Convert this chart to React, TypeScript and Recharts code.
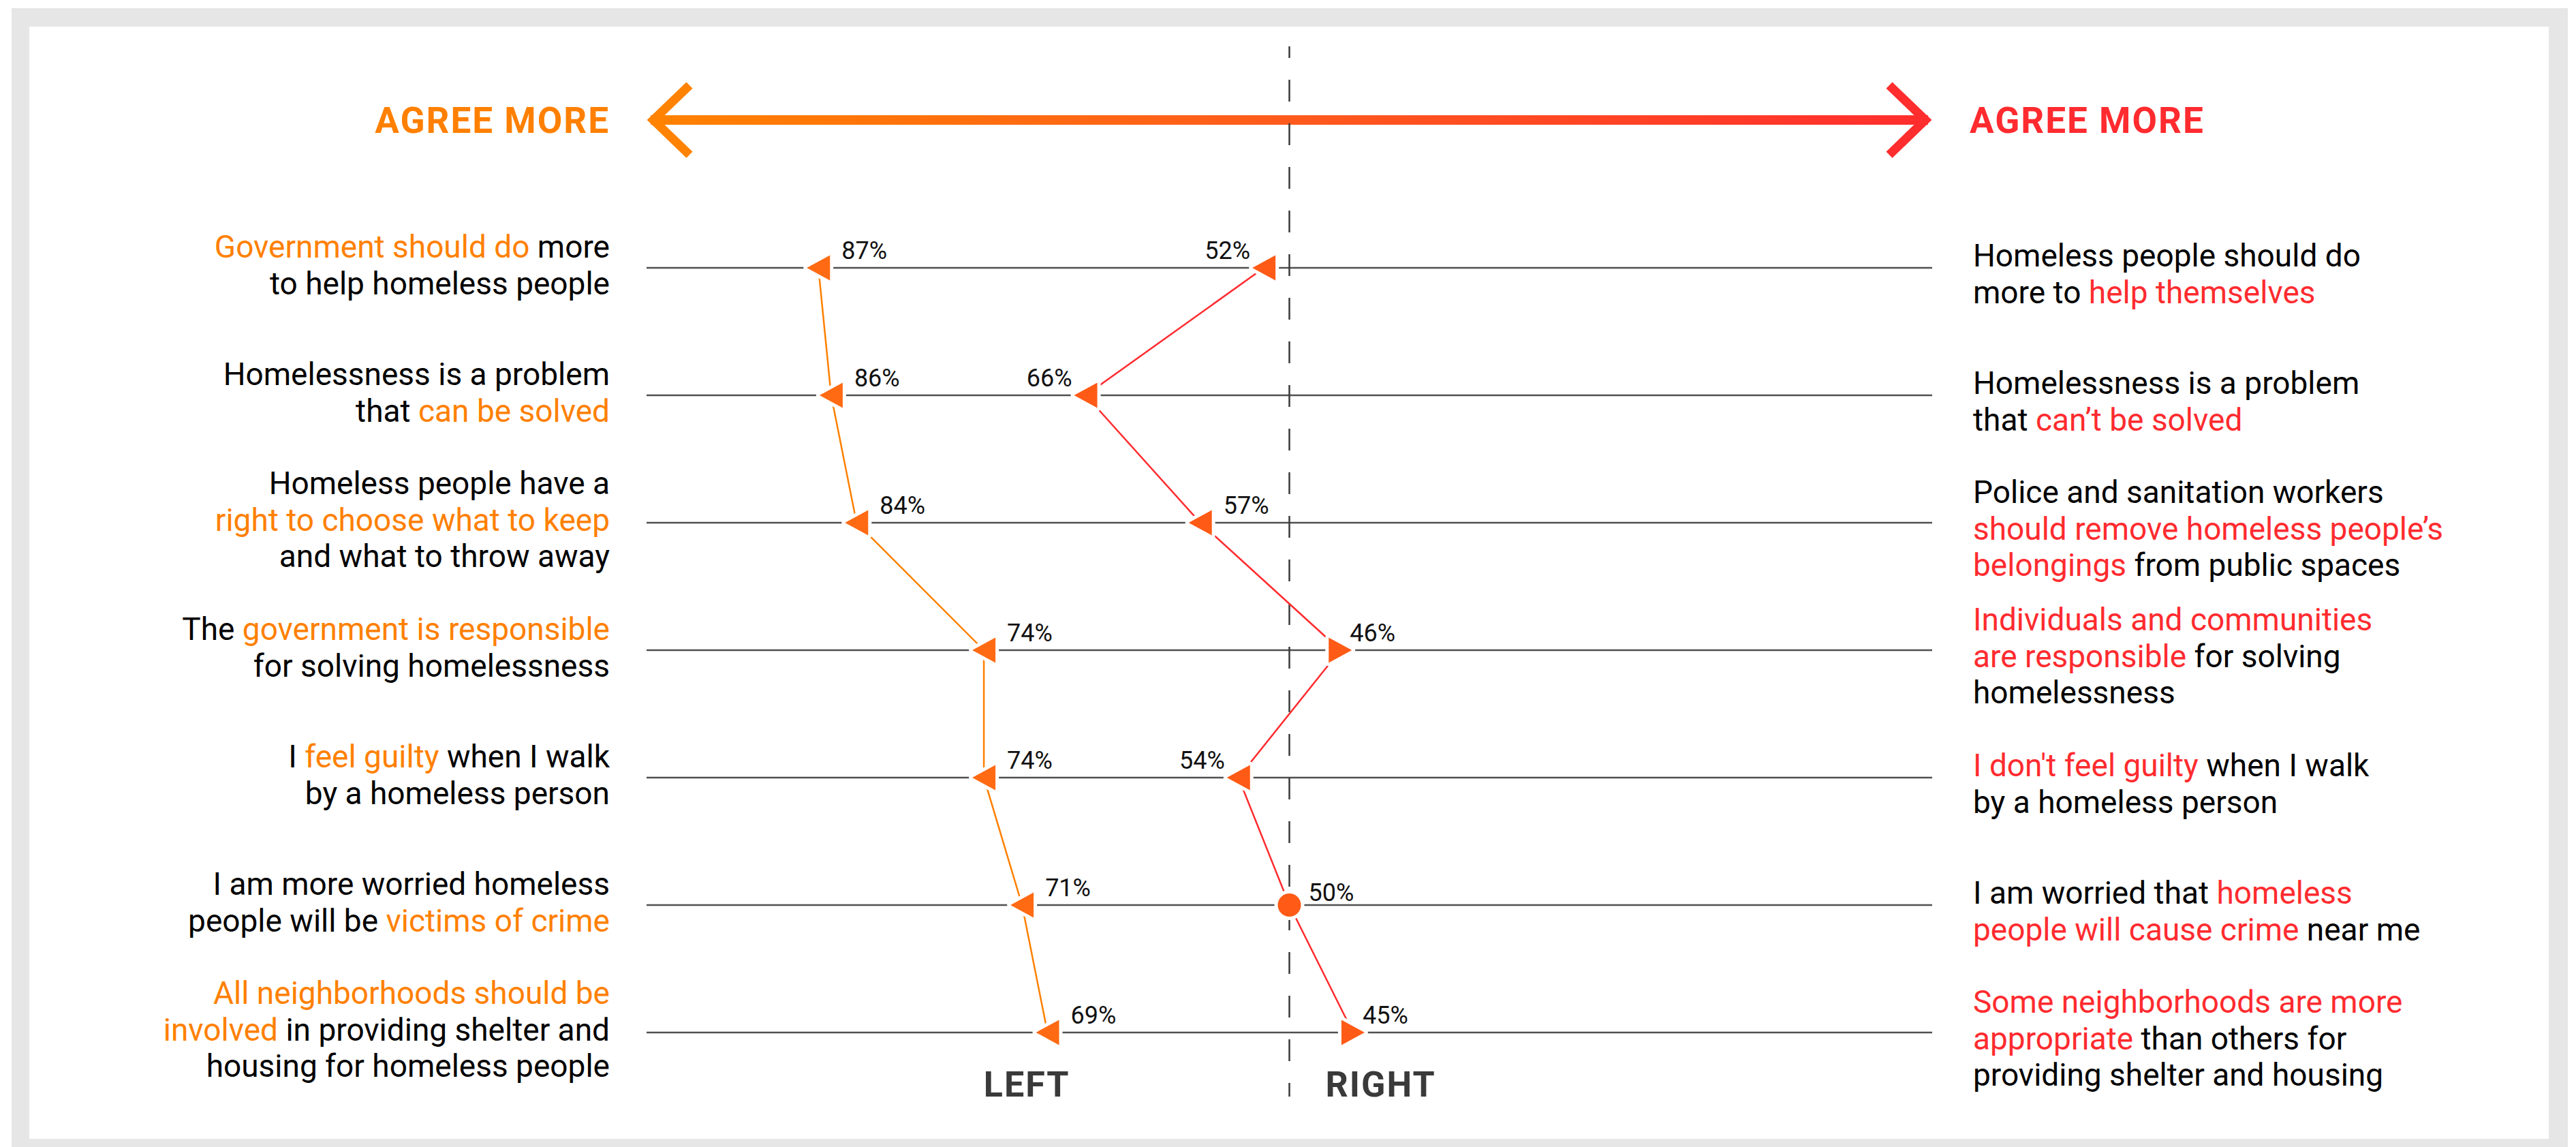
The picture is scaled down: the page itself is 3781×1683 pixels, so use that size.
import React from "react";
import { ComposedChart, Line, XAxis, YAxis, ReferenceLine } from "recharts";

const ROWS = [0, 1, 2, 3, 4, 5, 6];

// "*...*" marks the highlighted words, "|" breaks a line
const LEFT_STATEMENTS = [
  "*Government should do* more|to help homeless people",
  "Homelessness is a problem|that *can be solved*",
  "Homeless people have a|*right to choose what to keep*|and what to throw away",
  "The *government is responsible*|for solving homelessness",
  "I *feel guilty* when I walk|by a homeless person",
  "I am more worried homeless|people will be *victims of crime*",
  "*All neighborhoods should be*|*involved* in providing shelter and|housing for homeless people",
];

const RIGHT_STATEMENTS = [
  "Homeless people should do|more to *help themselves*",
  "Homelessness is a problem|that *can\u2019t be solved*",
  "Police and sanitation workers|*should remove homeless people\u2019s*|*belongings* from public spaces",
  "*Individuals and communities*|*are responsible* for solving|homelessness",
  "*I don't feel guilty* when I walk|by a homeless person",
  "I am worried that *homeless*|*people will cause crime* near me",
  "*Some neighborhoods are more*|*appropriate* than others for|providing shelter and housing",
];

// share agreeing with the left-hand statement
const LEFT_RESPONDENTS = [87, 86, 84, 74, 74, 71, 69];
const RIGHT_RESPONDENTS = [52, 66, 57, 46, 54, 50, 45];

const AGREE_LABEL = "AGREE MORE";
const LEFT_LABEL = "LEFT";
const RIGHT_LABEL = "RIGHT";

const rows = ROWS.map((row) => ({
  row,
  left: LEFT_RESPONDENTS[row],
  right: RIGHT_RESPONDENTS[row],
}));

const FONT = "Roboto, 'Noto Sans', sans-serif";
const ORANGE = "#FF8000";
const RED = "#FF2B2F";
const ROW_DOMAIN = [-1.738, 6.503];
const ARROW_ROW = -1.16;
const LINE_H = 53.5;
// right-group labels that sit before the marker
const LABEL_BEFORE = [0, 1, 4];

const parseLines = (s: string) =>
  s.split("|").map((line) =>
    line
      .split("*")
      .map((text, i) => ({ text, hi: i % 2 === 1 }))
      .filter((seg) => seg.text.length > 0)
  );

const StatementTick = ({ x, y, payload, statements, side }: any) => {
  const lines = parseLines(statements[payload.value]);
  const first = y - ((lines.length - 1) * LINE_H) / 2 + (side === "left" ? 12 : 25);
  const hiColor = side === "left" ? ORANGE : RED;
  return (
    <g>
      {lines.map((segs, i) => (
        <text
          key={i}
          x={x}
          y={first + i * LINE_H}
          textAnchor={side === "left" ? "end" : "start"}
          fontSize={46}
          fontFamily={FONT}
          fill="#000"
          style={{ whiteSpace: "pre" }}
        >
          {segs.map((seg, j) => (
            <tspan key={j} fill={seg.hi ? hiColor : "#000"}>
              {seg.text}
            </tspan>
          ))}
        </text>
      ))}
    </g>
  );
};

const Marker = ({ cx, cy, value, index, color, before }: any) => {
  const dir = value > 50 ? -1 : value < 50 ? 1 : 0;
  let shape;
  let lx = cx + 34;
  let ly = cy - 13;
  let anchor = "start";
  if (dir === 0) {
    shape = <circle cx={cx} cy={cy} r={17} />;
    lx = cx + 28;
    ly = cy - 6;
  } else {
    const tip = cx + dir * 17;
    const base = cx - dir * 17;
    shape = <path d={`M${tip},${cy} L${base},${cy - 18.5} L${base},${cy + 18.5} Z`} />;
    if (dir === 1) lx = cx + 14;
  }
  if (before) {
    lx = cx - 20;
    anchor = "end";
  }
  return (
    <g key={`m-${index}-${value}-${color}`}>
      <g fill={color} stroke="#fff" strokeWidth={10} strokeLinejoin="round" paintOrder="stroke">
        {shape}
      </g>
      <text x={lx} y={ly} textAnchor={anchor} fontSize={36} fontFamily={FONT} fill="#111">
        {value}%
      </text>
    </g>
  );
};

const AgreeArrow = (props: any) => {
  const lx = Math.min(props.x1, props.x2);
  const rx = Math.max(props.x1, props.x2);
  const y = props.y1;
  return (
    <g>
      <defs>
        <linearGradient id="agreeGrad" x1="0" x2="1" y1="0" y2="0">
          <stop offset="0%" stopColor="#FF8200" />
          <stop offset="50%" stopColor="#FF5A1C" />
          <stop offset="100%" stopColor="#FF2D2D" />
        </linearGradient>
      </defs>
      <rect x={lx + 6} y={y - 7} width={rx - lx - 12} height={14} fill="url(#agreeGrad)" />
      <polyline
        points={`${lx + 63},${y - 51} ${lx + 10},${y} ${lx + 63},${y + 51}`}
        fill="none"
        stroke="#FF8200"
        strokeWidth={13}
      />
      <polyline
        points={`${rx - 63},${y - 51} ${rx - 10},${y} ${rx - 63},${y + 51}`}
        fill="none"
        stroke="#FF2D2D"
        strokeWidth={13}
      />
      <text x={lx - 54} y={y + 19} textAnchor="end" fontSize={53} fontWeight={700} letterSpacing={2} fontFamily={FONT} fill={ORANGE}>
        {AGREE_LABEL}
      </text>
      <text x={rx + 55} y={y + 19} textAnchor="start" fontSize={53} fontWeight={700} letterSpacing={2} fontFamily={FONT} fill={RED}>
        {AGREE_LABEL}
      </text>
    </g>
  );
};

const CenterLine = (props: any) => {
  const x = props.x1;
  const top = Math.min(props.y1, props.y2);
  const bottom = Math.max(props.y1, props.y2);
  return (
    <g>
      <line x1={x} y1={top} x2={x} y2={bottom} stroke="#3a3a3a" strokeWidth={2.5} strokeDasharray="32 32" strokeDashoffset={15} />
      <text x={x - 322} y={bottom} textAnchor="end" fontSize={52} fontWeight={700} letterSpacing={2} fontFamily={FONT} fill="#3a3a3a">
        {LEFT_LABEL}
      </text>
      <text x={x + 53} y={bottom} textAnchor="start" fontSize={52} fontWeight={700} letterSpacing={2} fontFamily={FONT} fill="#3a3a3a">
        {RIGHT_LABEL}
      </text>
    </g>
  );
};

export default function App() {
  return (
    <div style={{ position: "absolute", left: 0, top: 0, width: 3781, height: 1683, background: "#fff" }}>
      <div style={{ position: "absolute", left: 17, top: 12, width: 3752, height: 1671, background: "#e6e6e6" }} />
      <div style={{ position: "absolute", left: 43, top: 39, width: 3698, height: 1632, background: "#fff" }} />
      <div style={{ position: "absolute", left: 0, top: 0 }}>
        <ComposedChart
          width={3781}
          height={1683}
          data={rows}
          layout="vertical"
          margin={{ top: 68, bottom: 74, left: 49, right: 45 }}
        >
          <XAxis type="number" domain={[-0.5, 100.5]} reversed hide />
          <YAxis
            yAxisId="left"
            type="number"
            dataKey="row"
            domain={ROW_DOMAIN}
            ticks={ROWS}
            interval={0}
            width={900}
            axisLine={false}
            tickLine={false}
            tickSize={0}
            tickMargin={54}
            tick={(p: any) => <StatementTick {...p} statements={LEFT_STATEMENTS} side="left" />}
          />
          <YAxis
            yAxisId="right"
            orientation="right"
            type="number"
            dataKey="row"
            domain={ROW_DOMAIN}
            ticks={ROWS}
            interval={0}
            width={900}
            axisLine={false}
            tickLine={false}
            tickSize={0}
            tickMargin={60}
            tick={(p: any) => <StatementTick {...p} statements={RIGHT_STATEMENTS} side="right" />}
          />
          {ROWS.map((r) => (
            <ReferenceLine key={r} yAxisId="left" y={r} stroke="#505050" strokeWidth={2.5} />
          ))}
          <ReferenceLine yAxisId="left" y={ARROW_ROW} shape={AgreeArrow} />
          <ReferenceLine yAxisId="left" x={50} shape={CenterLine} />
          <Line
            yAxisId="left"
            dataKey="right"
            stroke={RED}
            strokeWidth={2.5}
            isAnimationActive={false}
            activeDot={false}
            dot={(p: any) => (
              <Marker key={`r-${p.index}`} {...p} color="#FF5A16" before={LABEL_BEFORE.includes(p.index)} />
            )}
          />
          <Line
            yAxisId="left"
            dataKey="left"
            stroke={ORANGE}
            strokeWidth={2.5}
            isAnimationActive={false}
            activeDot={false}
            dot={(p: any) => <Marker key={`l-${p.index}`} {...p} color="#FF6A12" before={false} />}
          />
        </ComposedChart>
      </div>
    </div>
  );
}
